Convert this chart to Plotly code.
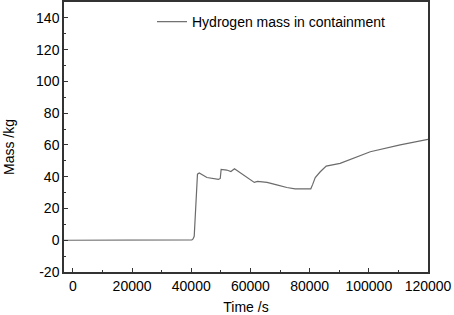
import plotly.graph_objects as go

time_s = [-3000, 0, 20000, 40000, 40200, 40600, 41000, 42100, 42700, 45300, 49200,
          49800, 50100, 52000, 53400, 54600, 56000, 58800, 61300, 62400, 65600,
          68900, 72300, 75100, 80400, 81000, 81900, 83600, 85600, 90300, 97100,
          100500, 110600, 120000]
mass_kg = [0, 0, 0, 0, 0.2, 0.8, 2.5, 41.6, 42.3, 39.5, 38.3,
           38.9, 44.6, 44.2, 43.3, 45.0, 43.1, 39.3, 36.4, 37.0, 36.4,
           34.9, 33.2, 32.4, 32.4, 35.0, 39.5, 43.1, 46.7, 48.4, 53.0,
           55.7, 60.0, 63.5]

x_tick_vals = [0, 20000, 40000, 60000, 80000, 100000, 120000]
x_tick_text = ["0", "20000", "40000", "60000", "80000", "100000", "120000"]
y_tick_vals = [-20, 0, 20, 40, 60, 80, 100, 120, 140]
y_tick_text = ["-20", "0", "20", "40", "60", "80", "100", "120", "140"]

series_name = "Hydrogen mass in containment"
x_title = "Time /s"
y_title = "Mass /kg"

FONT = "Arial, Liberation Sans, sans-serif"

fig = go.Figure()
fig.add_trace(go.Scatter(x=time_s, y=mass_kg, mode="lines", name=series_name,
                         line=dict(color="#6b6b6b", width=1.2)))

axis_common = dict(showline=True, linecolor="#333333", linewidth=1.5, mirror=True,
                   showgrid=False, zeroline=False, ticks="inside", ticklen=4,
                   tickwidth=1, tickcolor="#333333", automargin=False,
                   tickfont=dict(family=FONT, size=14, color="black"))

fig.update_xaxes(range=[-3000, 120000], tickmode="array",
                 tickvals=x_tick_vals, ticktext=x_tick_text,
                 minor=dict(ticks="inside", ticklen=2.5, dtick=10000, tick0=0,
                            tickcolor="#333333", tickmode="linear"),
                 title=dict(text=x_title, font=dict(family=FONT, size=14, color="black"),
                            standoff=11),
                 **axis_common)
fig.update_yaxes(range=[-20, 150], tickmode="array",
                 tickvals=y_tick_vals, ticktext=y_tick_text,
                 minor=dict(ticks="inside", ticklen=2.5, dtick=10, tick0=-20,
                            tickcolor="#333333", tickmode="linear"),
                 **axis_common)

fig.add_annotation(text=y_title, textangle=-90, xref="paper", yref="paper",
                   x=(9 - 64) / 364, y=(272 - 147) / 270, showarrow=False,
                   xanchor="center", yanchor="middle",
                   font=dict(family=FONT, size=14, color="black"))

fig.update_layout(
    width=454, height=315,
    margin=dict(l=64, r=26, t=2, b=43),
    paper_bgcolor="white", plot_bgcolor="white",
    showlegend=True,
    legend=dict(x=(152 - 64) / 364, y=0.985, xanchor="left", yanchor="top",
                bgcolor="rgba(0,0,0,0)",
                font=dict(family=FONT, size=14, color="black")),
)

fig.write_html("out.html", config={"displayModeBar": False},
               post_script="document.body.style.margin='0';document.body.style.padding='0';")
